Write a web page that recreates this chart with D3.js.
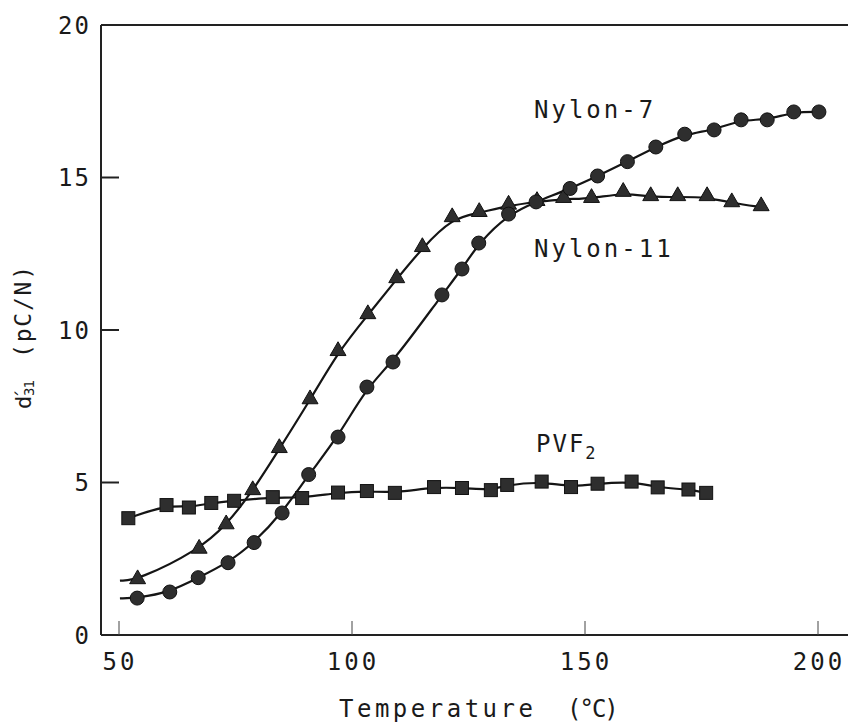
<!DOCTYPE html>
<html>
<head>
<meta charset="utf-8">
<script src="https://cdn.jsdelivr.net/npm/d3@7"></script>
<style>
  body { margin: 0; background: #fff; }
  svg text { font-family: "DejaVu Sans Mono", monospace; fill: #1a1a1a; }
</style>
</head>
<body>
<svg id="chart" width="848" height="723"></svg>
<script>
// values
const nylon7Temp = [53.9, 60.9, 67.0, 73.4, 79.0, 85.0, 90.7, 97.0, 103.2, 108.8, 119.3, 123.6, 127.2, 133.6, 139.5, 146.8, 152.7, 159.1, 165.2, 171.4, 177.7, 183.5, 189.1, 194.8, 200.2];
const nylon7D31 = [1.21, 1.41, 1.88, 2.37, 3.03, 4.0, 5.26, 6.49, 8.13, 8.95, 11.15, 12.0, 12.85, 13.8, 14.2, 14.64, 15.05, 15.52, 16.0, 16.42, 16.56, 16.89, 16.89, 17.15, 17.15];
const nylon7Start = [50.2, 1.2];

const nylon11Temp = [54.0, 67.2, 73.0, 78.7, 84.4, 91.0, 97.0, 103.4, 109.6, 115.1, 121.5, 127.3, 133.6, 139.7, 145.4, 151.4, 158.2, 164.1, 169.9, 176.2, 181.5, 187.8];
const nylon11D31 = [1.8, 2.8, 3.6, 4.72, 6.1, 7.7, 9.28, 10.49, 11.67, 12.69, 13.67, 13.84, 14.08, 14.2, 14.3, 14.3, 14.5, 14.36, 14.36, 14.36, 14.16, 14.03];
const nylon11Start = [50.2, 1.78];

const pvf2Temp = [52.0, 60.2, 65.0, 69.8, 74.7, 83.0, 89.3, 97.0, 103.2, 109.2, 117.6, 123.6, 129.8, 133.3, 140.7, 147.0, 152.7, 160.0, 165.6, 172.2, 176.0];
const pvf2D31 = [3.83, 4.26, 4.18, 4.33, 4.4, 4.52, 4.49, 4.67, 4.72, 4.66, 4.85, 4.82, 4.75, 4.92, 5.03, 4.85, 4.96, 5.03, 4.84, 4.77, 4.66];

const xTicks = [50, 100, 150, 200];
const yTicks = [0, 5, 10, 15, 20];

const svg = d3.select("#chart");
const x = d3.scaleLinear().domain([50, 200]).range([119, 818]);
const y = d3.scaleLinear().domain([0, 20]).range([635, 25]);
const left = 101, right = 848;

// frame: left axis, top and bottom lines
svg.append("line").attr("x1", left).attr("x2", left).attr("y1", y(20)).attr("y2", y(0))
  .attr("stroke", "#222").attr("stroke-width", 2);
svg.append("line").attr("x1", left).attr("x2", right).attr("y1", y(20)).attr("y2", y(20))
  .attr("stroke", "#222").attr("stroke-width", 2);
svg.append("line").attr("x1", left).attr("x2", right).attr("y1", y(0)).attr("y2", y(0))
  .attr("stroke", "#222").attr("stroke-width", 2);

// y ticks (inward) and labels
svg.selectAll(".ytick").data(yTicks.filter(d => d > 0 && d < 20)).enter().append("line")
  .attr("x1", left).attr("x2", left + 18)
  .attr("y1", d => y(d)).attr("y2", d => y(d))
  .attr("stroke", "#222").attr("stroke-width", 2);
svg.selectAll(".ylab").data(yTicks).enter().append("text")
  .attr("x", 91).attr("y", d => y(d)).attr("dy", "0.36em")
  .attr("text-anchor", "end").attr("font-size", 24).attr("letter-spacing", 2)
  .text(d => d);

// x ticks (small, inward) and labels
svg.selectAll(".xtick").data(xTicks).enter().append("line")
  .attr("x1", d => x(d)).attr("x2", d => x(d))
  .attr("y1", y(0)).attr("y2", y(0) - 14)
  .attr("stroke", "#444").attr("stroke-width", 1);
svg.selectAll(".xlab").data(xTicks).enter().append("text")
  .attr("x", d => x(d) + 1).attr("y", 670)
  .attr("text-anchor", "middle").attr("font-size", 24).attr("letter-spacing", 3)
  .text(d => d);

// axis titles
const xTitle = svg.append("text").attr("y", 717).attr("font-size", 24).attr("letter-spacing", 3.5);
xTitle.append("tspan").attr("x", 339).text("Temperature");
xTitle.append("tspan").attr("x", 567).attr("letter-spacing", -2).text("(°C)");

const yTitle = svg.append("text")
  .attr("transform", "translate(31,409) rotate(-90)")
  .attr("font-size", 22);
yTitle.append("tspan").text("d");
yTitle.append("tspan").attr("font-size", 18).attr("dx", -4).attr("dy", -2).text("´");
yTitle.append("tspan").attr("font-size", 14).attr("letter-spacing", -1).attr("dx", -7).attr("dy", 5).text("31");
svg.append("text")
  .attr("transform", "translate(31,358) rotate(-90)")
  .attr("font-size", 23).attr("letter-spacing", 1.8)
  .text("(pC/N)");

// curves
const line = d3.line().x(d => x(d[0])).y(d => y(d[1])).curve(d3.curveBasis);
const zip = (t, v) => t.map((d, i) => [d, v[i]]);

const nylon7 = zip(nylon7Temp, nylon7D31);
const nylon11 = zip(nylon11Temp, nylon11D31);
const pvf2 = zip(pvf2Temp, pvf2D31);

[[nylon7Start].concat(nylon7), [nylon11Start].concat(nylon11), pvf2].forEach(pts => {
  svg.append("path").datum(pts).attr("d", line)
    .attr("fill", "none").attr("stroke", "#151515").attr("stroke-width", 2.2);
});

// markers
svg.selectAll(".sq").data(pvf2).enter().append("rect")
  .attr("x", d => x(d[0]) - 6.5).attr("y", d => y(d[1]) - 6.5)
  .attr("width", 13).attr("height", 13)
  .attr("fill", "#2e2e2e").attr("stroke", "#111").attr("stroke-width", 1);

const tri = d3.symbol().type(d3.symbolTriangle).size(110);
svg.selectAll(".tri").data(nylon11).enter().append("path")
  .attr("d", tri)
  .attr("transform", d => `translate(${x(d[0])},${y(d[1]) - 1})`)
  .attr("fill", "#2e2e2e").attr("stroke", "#111").attr("stroke-width", 1);

svg.selectAll(".circ").data(nylon7).enter().append("circle")
  .attr("cx", d => x(d[0])).attr("cy", d => y(d[1])).attr("r", 7)
  .attr("fill", "#2e2e2e").attr("stroke", "#111").attr("stroke-width", 1);

// series labels
svg.append("text").attr("x", 534).attr("y", 118).attr("font-size", 24).attr("letter-spacing", 3)
  .text("Nylon-7");
svg.append("text").attr("x", 534).attr("y", 257).attr("font-size", 24).attr("letter-spacing", 3)
  .text("Nylon-11");
const pvfLabel = svg.append("text").attr("x", 536).attr("y", 452).attr("font-size", 24).attr("letter-spacing", 2);
pvfLabel.append("tspan").text("PVF");
pvfLabel.append("tspan").attr("font-size", 17).attr("dy", 7).text("2");
</script>
</body>
</html>
